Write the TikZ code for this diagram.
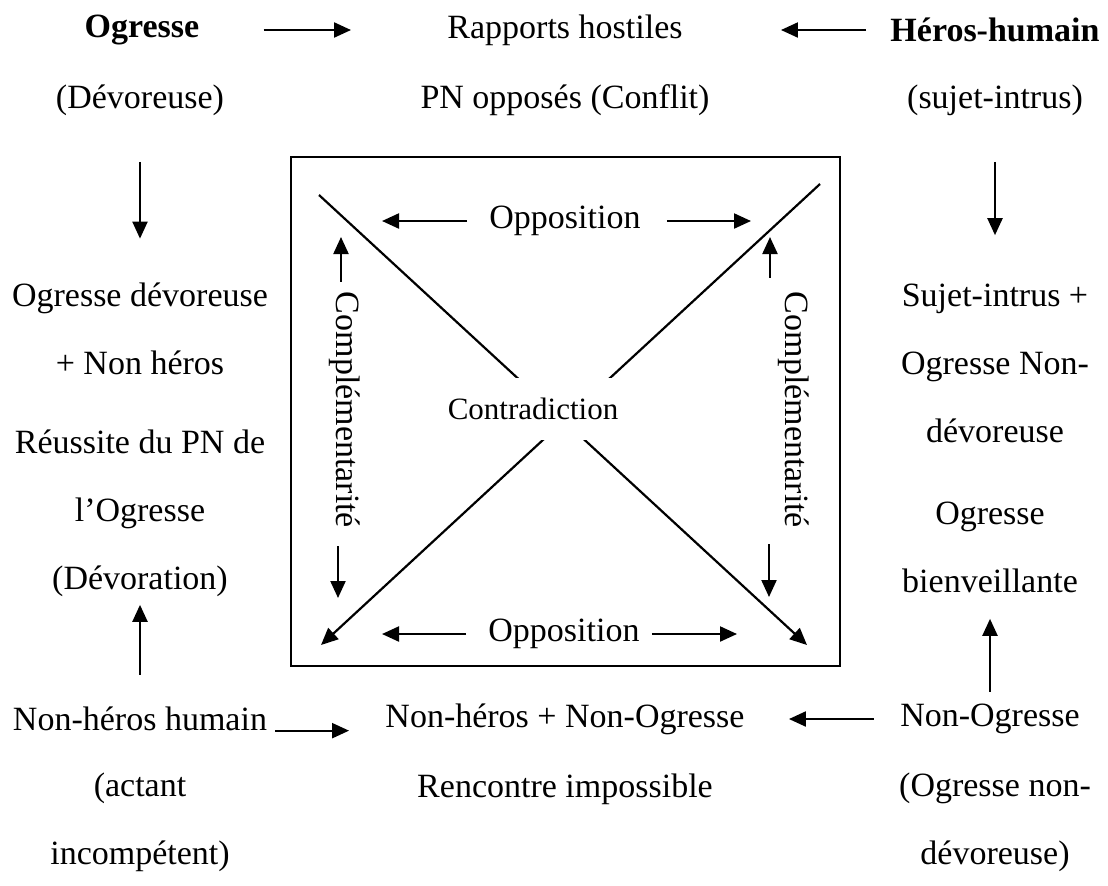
\documentclass[tikz,border=0pt]{standalone}
\usepackage{fontspec}
\setmainfont{Liberation Serif}
\usetikzlibrary{arrows.meta}

\begin{document}
\begin{tikzpicture}[x=0.5pt, y=-0.5pt,
    >={Triangle[length=8.5pt, width=7.5pt]},
    txt/.style={font=\fontsize{17}{34}\selectfont, align=center, inner sep=0pt},
    hd/.style={txt, font=\fontsize{17}{34}\selectfont\bfseries},
    arr/.style={->, line width=1.1pt}]
  \useasboundingbox (0,0) rectangle (1108,885);

  % Top rows
  \node[hd]  (ogre)   at (142,30)  {Ogresse};
  \node[txt] (hostil) at (565,30)  {Rapports hostiles};
  \node[hd]  (heros)  at (995,30)  {Héros-humain};
  \node[txt] (devor)  at (140,100) {(Dévoreuse)};
  \node[txt] (pnopp)  at (565,100) {PN opposés (Conflit)};
  \node[txt] (intrus) at (995,100) {(sujet-intrus)};

  % Left column
  \node[txt] (ogdev)  at (140,329) {Ogresse dévoreuse\\+ Non héros};
  \node[txt] (reuss)  at (140,513) {Réussite du PN de\\l’Ogresse\\(Dévoration)};
  \node[txt] (nonher) at (140,719) {Non-héros humain};
  \node[txt] (actant) at (140,822) {(actant\\incompétent)};

  % Right column
  \node[txt] (sujet)  at (995,363) {Sujet-intrus +\\Ogresse Non-\\dévoreuse};
  \node[txt] (bienv)  at (990,547) {Ogresse\\bienveillante};
  \node[txt] (nonogr) at (990,719) {Non-Ogresse};
  \node[txt] (ogrnon) at (995,822) {(Ogresse non-\\dévoreuse)};

  % Bottom middle
  \node[txt] (nonnon) at (565,719) {Non-héros + Non-Ogresse};
  \node[txt] (renc)   at (565,789) {Rencontre impossible};

  % Arrows outside the square
  \draw[arr, shorten <=32pt, shorten >=48pt] (ogre) -- (hostil);
  \draw[arr, shorten <=12pt, shorten >=49pt] (heros) -- (hostil);
  \draw[arr, shorten <=23pt, shorten >=22pt] (devor) -- (ogdev);
  \draw[arr, shorten <=23pt, shorten >=24pt] (intrus) -- (sujet);
  \draw[arr, shorten <=16pt, shorten >=4pt] (nonher) -- (reuss);
  \draw[arr, shorten <=6pt, shorten >=13pt] (nonogr) -- (bienv);
  \draw[arr, shorten <=4pt, shorten >=18pt]
    (nonher.base east) -- (nonher.base east -| nonnon.west);
  \draw[arr, shorten <=13pt, shorten >=22pt] (nonogr) -- (nonnon);

  % The square and its diagonals
  \draw[line width=1.1pt] (291,157) rectangle (840,666);
  \coordinate (dtl) at (319,195);
  \coordinate (dbr) at (807,645);
  \coordinate (dtr) at (820,184);
  \coordinate (dbl) at (321,645);
  \draw[arr] (dtl) -- (dbr);
  \draw[arr] (dtr) -- (dbl);
  \node[font=\fontsize{15.5}{18}\selectfont, fill=white, minimum height=31pt,
        inner xsep=1pt] (contra) at (533,409) {Contradiction};

  % Opposition
  \node[txt] (oppT) at (565,221) {Opposition};
  \coordinate (oppTL) at (382,221);
  \coordinate (oppTR) at (751,221);
  \draw[arr, shorten <=11pt] (oppT) -- (oppTL);
  \draw[arr, shorten <=13pt] (oppT) -- (oppTR);
  \node[txt] (oppB) at (564,634) {Opposition};
  \coordinate (oppBL) at (382,634);
  \coordinate (oppBR) at (737,634);
  \draw[arr, shorten <=11pt] (oppB) -- (oppBL);
  \draw[arr, shorten <=6pt] (oppB) -- (oppBR);

  % Complementarite
  \node[txt, rotate=-90] (compL) at (345,410) {Complémentarité};
  \node[txt, rotate=-90] (compR) at (794,410) {Complémentarité};
  \coordinate (cLt) at (341,237);
  \coordinate (cLb) at (338,598);
  \coordinate (cRt) at (770,237);
  \coordinate (cRb) at (769,597);
  \draw[arr, shorten <=5pt] (compL.west -| cLt) -- (cLt);
  \draw[arr, shorten <=9pt] (compL.east -| cLb) -- (cLb);
  \draw[arr, shorten <=7pt] (compR.west -| cRt) -- (cRt);
  \draw[arr, shorten <=8pt] (compR.east -| cRb) -- (cRb);
\end{tikzpicture}
\end{document}
